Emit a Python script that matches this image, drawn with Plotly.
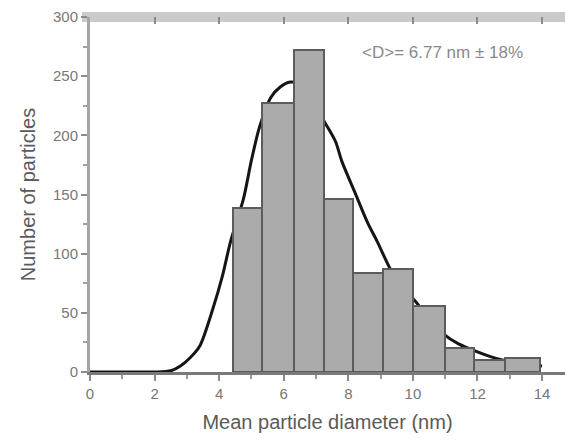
import plotly.graph_objects as go

# ---- data ----
bin_edges = [4.43, 5.33, 6.33, 7.25, 8.14, 9.07, 10.0, 11.0, 11.88, 12.85, 13.93]
counts = [139, 227, 272, 146, 84, 87, 56, 20, 10, 12]

fit_x = [0, 1, 2, 2.5, 2.8, 3.1, 3.4, 3.8, 4.1, 4.35, 4.75, 5.0, 5.25, 5.6, 5.9,
         6.2, 6.5, 6.9, 7.25, 7.6, 7.8, 8.2, 8.6, 8.9, 9.3, 9.65, 10.1, 10.5,
         10.95, 11.4, 12.0, 12.4, 12.8, 13.3, 14.0]
fit_y = [0, 0, 0, 1, 5, 12, 22, 53, 81, 110, 146, 179, 207, 232, 241,
         245, 243, 230, 212, 195, 178, 152, 126, 110, 87, 72, 59, 45,
         32, 24, 17, 13, 10, 7, 5]

x_ticks = [0, 2, 4, 6, 8, 10, 12, 14]
y_ticks = [0, 50, 100, 150, 200, 250, 300]
annotation_text = "&lt;D&gt;= 6.77 nm \u00b1 18%"
x_title = "Mean particle diameter (nm)"
y_title = "Number of particles"

centers = [(a + b) / 2 for a, b in zip(bin_edges[:-1], bin_edges[1:])]
widths = [b - a for a, b in zip(bin_edges[:-1], bin_edges[1:])]

fig = go.Figure()
# fit curve on the base subplot (drawn underneath)
fig.add_trace(go.Scatter(x=fit_x, y=fit_y, mode="lines",
                         line=dict(color="#151515", width=3, shape="spline", smoothing=0.8),
                         showlegend=False))
# histogram bars on the overlaying subplot (drawn on top of the curve)
fig.add_trace(go.Bar(x=centers, y=counts, width=widths, xaxis="x2",
                     marker=dict(color="#ababab", line=dict(color="#5c5c5c", width=2)),
                     showlegend=False))

font_family = "Liberation Sans, Arial, sans-serif"
x_range = [0, 14.71]

fig.update_layout(
    width=565, height=443,
    margin=dict(l=90, r=0, t=17, b=71),
    paper_bgcolor="white", plot_bgcolor="white",
    bargap=0,
    font=dict(family=font_family, color="#666666"),
    xaxis=dict(range=x_range, tickvals=x_ticks, ticks="outside", ticklen=6, tickwidth=2,
               tickcolor="#8a8a8a", showgrid=False, zeroline=False,
               showline=True, linecolor="#7a7a7a", linewidth=3,
               tickfont=dict(size=15, color="#777777"),
               minor=dict(dtick=1, ticks="outside", ticklen=4, tickwidth=2, tickcolor="#9a9a9a"),
               title=dict(text=x_title, font=dict(size=20, color="#5a5a5a"), standoff=14)),
    xaxis2=dict(range=x_range, overlaying="x", side="top", anchor="y",
                tickvals=x_ticks, ticks="inside", ticklen=7, tickwidth=2, tickcolor="#8a8a8a",
                showticklabels=False, showgrid=False, zeroline=False, showline=False),
    yaxis=dict(range=[0, 300], tickvals=y_ticks, ticks="outside", ticklen=6, tickwidth=2,
               tickcolor="#8a8a8a", showgrid=False, zeroline=False,
               showline=True, linecolor="#a5a5a5", linewidth=3,
               tickfont=dict(size=15, color="#777777"),
               minor=dict(dtick=25, ticks="outside", ticklen=4, tickwidth=2, tickcolor="#a0a0a0"),
               title=dict(text=y_title, font=dict(size=20, color="#5a5a5a"), standoff=12)),
    shapes=[dict(type="line", xref="paper", yref="paper", x0=-0.017, x1=1, y0=1, y1=1,
                 line=dict(color="#cacaca", width=10), layer="below")],
    annotations=[dict(x=10.93, y=270, xref="x", yref="y", text=annotation_text,
                      showarrow=False, font=dict(size=17, color="#8a8a8a"))],
)

fig.write_html("out.html")
